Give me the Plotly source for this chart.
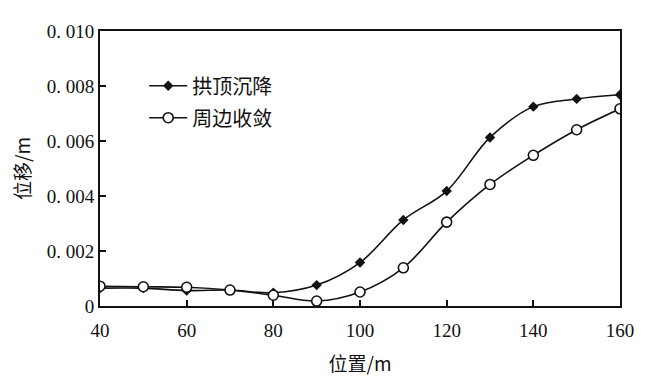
import plotly.graph_objects as go

positions = [40, 50, 60, 70, 80, 90, 100, 110, 120, 130, 140, 150, 160]
crown_settlement = [0.00065, 0.00065, 0.00056, 0.00058, 0.00048, 0.00076, 0.00158,
                    0.00313, 0.00418, 0.00613, 0.00725, 0.00753, 0.00768]
convergence = [0.00072, 0.00070, 0.00068, 0.00058, 0.00039, 0.00018, 0.00051,
               0.00139, 0.00305, 0.00442, 0.00548, 0.00641, 0.00717]
y_tickvals = [0, 0.002, 0.004, 0.006, 0.008, 0.010]
y_ticktext = ["0", "0. 002", "0. 004", "0. 006", "0. 008", "0. 010"]
x_tickvals = [40, 60, 80, 100, 120, 140, 160]

num_font = "Liberation Serif"
cjk_font = "Noto Sans CJK SC"

fig = go.Figure()
fig.add_trace(go.Scatter(
    x=positions, y=crown_settlement, name="拱顶沉降", legendgroup="a",
    mode="lines+markers", line=dict(color="#111111", width=1.6, shape="spline"),
    marker=dict(symbol="diamond", size=8, color="#111111"),
))
fig.add_trace(go.Scatter(
    x=positions, y=convergence, name="周边收敛", legendgroup="b",
    mode="lines+markers", line=dict(color="#111111", width=1.6, shape="spline"),
    marker=dict(symbol="circle", size=10, color="white", line=dict(color="#111111", width=1.6)),
))

fig.update_layout(
    width=667, height=383,
    margin=dict(l=92, r=55, t=23, b=85),
    paper_bgcolor="white", plot_bgcolor="white",
    showlegend=True,
    legend=dict(x=0.085, y=0.872, xanchor="left", yanchor="top",
                bgcolor="rgba(0,0,0,0)", itemwidth=38,
                font=dict(family=cjk_font, size=20, color="#111111"),
                tracegroupgap=3),
    font=dict(family=num_font, color="#111111"),
)
fig.update_xaxes(
    range=[40, 160], tickvals=x_tickvals, ticks="inside", ticklen=6, tickwidth=1.5,
    tickcolor="#111111", showline=True, linecolor="#111111", linewidth=2, mirror=True,
    showgrid=False, zeroline=False, ticklabelstandoff=6, automargin=False,
    tickfont=dict(family=num_font, size=19, color="#111111"),
    title=dict(text="位置/m", font=dict(family=cjk_font, size=19, color="#111111"), standoff=18),
)
fig.update_yaxes(
    range=[0, 0.010], tickvals=y_tickvals, ticktext=y_ticktext, ticks="inside", ticklen=6,
    tickwidth=1.5, tickcolor="#111111", showline=True, linecolor="#111111", linewidth=2,
    mirror=True, showgrid=False, zeroline=False, automargin=False,
    tickfont=dict(family=num_font, size=19, color="#111111"),
    title=dict(text="位移/m", font=dict(family=cjk_font, size=19, color="#111111"), standoff=32),
)

fig.write_html("out.html")
